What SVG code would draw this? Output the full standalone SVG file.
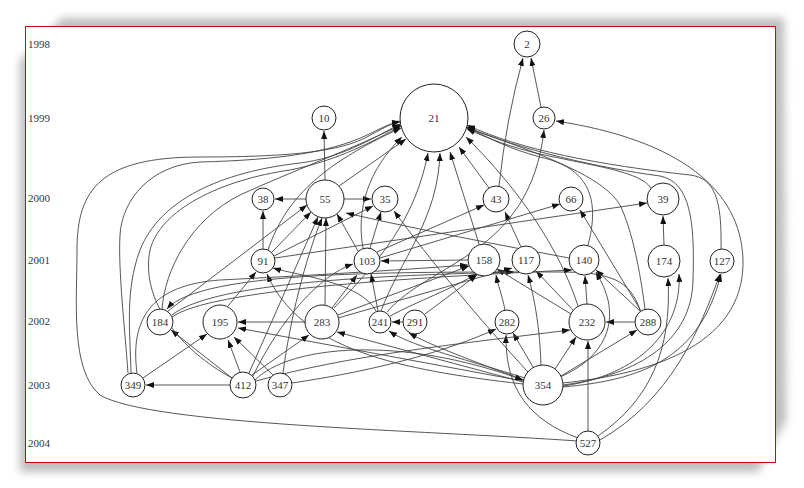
<svg xmlns="http://www.w3.org/2000/svg" width="804" height="488" viewBox="0 0 804 488">
<defs>
<filter id="sh" x="-10%" y="-10%" width="120%" height="120%"><feGaussianBlur stdDeviation="4"/></filter>
<marker id="a" markerUnits="userSpaceOnUse" markerWidth="8" markerHeight="6" refX="8" refY="3" orient="auto"><path d="M0,0 L8,3 L0,6 z" fill="#111"/></marker>
</defs>
<style>
.n circle{fill:#fff;stroke:#222;stroke-width:1}
.n text,.yr{font-family:"Liberation Serif","DejaVu Serif",serif;font-size:11px;fill:#333;text-anchor:middle}
.yr{text-anchor:start}
#edges path{fill:none;stroke:#444;stroke-width:0.9;marker-end:url(#a)}
</style>
<rect width="804" height="488" fill="#fff"/>
<path d="M20,60 L62,18 L784,18 L786,420 L758,472 L20,472 Z" fill="#bdbdbd" filter="url(#sh)"/>
<rect x="25.5" y="26.5" width="750" height="436" fill="#fff" stroke="#d40000" stroke-width="1"/>
<g id="years">
<text class="yr" x="28" y="48">1998</text>
<text class="yr" x="28" y="122">1999</text>
<text class="yr" x="28" y="202">2000</text>
<text class="yr" x="28" y="264">2001</text>
<text class="yr" x="28" y="325">2002</text>
<text class="yr" x="28" y="389">2003</text>
<text class="yr" x="28" y="447">2004</text>
</g>
<g id="edges">
<path d="M499,186 Q506,120 523,58"/>
<path d="M541,107 L531,58"/>
<path d="M325,180 L324,131"/>
<path d="M306,199 L275,199"/>
<path d="M344,199 L371,199"/>
<path d="M263,249 L263,211"/>
<path d="M272,252 L311,212"/>
<path d="M274,256 L373,206"/>
<path d="M339,186 L406,139"/>
<path d="M489,188 L459,147"/>
<path d="M479,244 L450,152"/>
<path d="M358,251 L337,214"/>
<path d="M370,248 L381,212"/>
<path d="M377,252 L484,205"/>
<path d="M380,258 L560,204"/>
<path d="M275,258 L647,203"/>
<path d="M468,260 L381,261"/>
<path d="M521,247 L505,212"/>
<path d="M641,311 L580,210"/>
<path d="M387,312 C430,262 530,255 544,130"/>
<path d="M588,245 C600,200 590,168 540,157 C510,149 488,138 467,127"/>
<path d="M651,188 C640,172 600,167 540,154 C510,147 490,139 467,129"/>
<path d="M664,245 L663,216"/>
<path d="M721,249 C722,200 715,178 690,175 C600,165 520,150 467,125"/>
<path d="M563,383 C640,375 745,350 743,260 C741,190 680,140 556,121"/>
<path d="M587,304 L585,276"/>
<path d="M635,322 L606,322"/>
<path d="M640,311 L596,270"/>
<path d="M573,310 L536,271"/>
<path d="M571,314 L497,269"/>
<path d="M555,369 L576,337"/>
<path d="M561,376 L637,330"/>
<path d="M533,367 L513,333"/>
<path d="M541,365 C540,330 535,300 528,275"/>
<path d="M588,431 L588,341"/>
<path d="M578,438 C530,420 505,390 506,335"/>
<path d="M598,436 C650,400 672,350 668,278"/>
<path d="M600,440 C670,400 700,330 720,274"/>
<path d="M563,387 C640,380 700,360 721,274"/>
<path d="M563,386 C640,375 682,330 679,274"/>
<path d="M230,385 L146,385"/>
<path d="M232,378 L171,330"/>
<path d="M143,378 L207,334"/>
<path d="M240,372 L228,340"/>
<path d="M273,375 L234,337"/>
<path d="M523,381 L238,328"/>
<path d="M305,322 L238,322"/>
<path d="M252,375 L309,335"/>
<path d="M228,306 L256,272"/>
<path d="M523,384 C400,370 300,350 267,274"/>
<path d="M253,376 C280,320 320,275 353,264"/>
<path d="M249,373 L318,217"/>
<path d="M283,373 C290,320 305,260 322,218"/>
<path d="M325,305 L326,218"/>
<path d="M332,308 L357,275"/>
<path d="M338,315 L469,266"/>
<path d="M338,318 L512,268"/>
<path d="M403,322 L392,322"/>
<path d="M525,378 C450,355 410,345 389,331"/>
<path d="M524,380 C470,360 430,345 409,333"/>
<path d="M640,310 C630,280 610,272 560,272 C400,272 200,270 167,309"/>
<path d="M172,315 C210,285 350,276 514,272"/>
<path d="M172,317 C210,290 400,278 572,270"/>
<path d="M334,308 C380,260 415,220 428,153"/>
<path d="M381,311 C400,260 438,220 440,153"/>
<path d="M363,248 C356,210 368,170 402,137"/>
<path d="M268,250 C285,200 320,165 401,128"/>
<path d="M578,441 C420,430 150,425 100,395 C70,370 77,300 77,250 C77,190 100,157 200,157 C300,157 340,150 365,138 C380,130 390,124 400,121"/>
<path d="M128,373 C125,330 118,270 120,235 C122,200 150,165 200,162 C280,160 330,152 365,136 C382,128 390,123 400,122"/>
<path d="M131,373 C130,330 125,290 140,250 C160,200 220,172 300,163 C340,158 370,140 400,124"/>
<path d="M232,378 C180,350 140,300 150,250 C160,210 220,180 290,170 C340,160 375,140 401,126"/>
<path d="M162,309 C165,270 190,220 240,195 C290,172 350,150 401,125"/>
<path d="M645,309 C640,270 632,230 620,205 C605,180 560,160 467,128"/>
<path d="M563,385 C640,375 692,340 693,280 C695,220 690,182 660,176 C600,168 520,150 467,127"/>
<path d="M578,306 C560,250 520,190 466,137"/>
<path d="M560,377 C600,360 615,330 608,300 C604,285 600,280 596,272"/>
<path d="M390,316 C420,300 450,290 476,274"/>
<path d="M425,314 L477,275"/>
<path d="M505,310 C502,295 498,285 496,275"/>
<path d="M292,383 C380,370 450,350 496,329"/>
<path d="M256,381 C350,355 450,345 570,330"/>
<path d="M523,382 L337,332"/>
<path d="M255,380 C290,345 400,335 523,380"/>
<path d="M137,373 C130,320 150,285 220,280 C300,276 400,270 468,265"/>
<path d="M168,311 L307,205"/>
<path d="M378,311 L371,274"/>
<path d="M376,311 C360,282 300,276 273,268"/>
<path d="M528,372 C480,320 430,260 394,211"/>
<path d="M569,258 C500,245 420,230 346,213"/>
</g>
<g id="n2" class="n"><circle cx="527" cy="44" r="13"/><text x="527" y="48">2</text></g>
<g id="n21" class="n"><circle cx="434" cy="118" r="34"/><text x="434" y="122">21</text></g>
<g id="n10" class="n"><circle cx="324" cy="118" r="12"/><text x="324" y="122">10</text></g>
<g id="n26" class="n"><circle cx="544" cy="118" r="11"/><text x="544" y="122">26</text></g>
<g id="n38" class="n"><circle cx="263" cy="199" r="11"/><text x="263" y="203">38</text></g>
<g id="n55" class="n"><circle cx="325" cy="199" r="19"/><text x="325" y="203">55</text></g>
<g id="n35" class="n"><circle cx="385" cy="199" r="13"/><text x="385" y="203">35</text></g>
<g id="n43" class="n"><circle cx="496" cy="199" r="13"/><text x="496" y="203">43</text></g>
<g id="n66" class="n"><circle cx="571" cy="199" r="12"/><text x="571" y="203">66</text></g>
<g id="n39" class="n"><circle cx="663" cy="199" r="16"/><text x="663" y="203">39</text></g>
<g id="n91" class="n"><circle cx="263" cy="261" r="12"/><text x="263" y="265">91</text></g>
<g id="n103" class="n"><circle cx="367" cy="261" r="13"/><text x="367" y="265">103</text></g>
<g id="n158" class="n"><circle cx="484" cy="260" r="16"/><text x="484" y="264">158</text></g>
<g id="n117" class="n"><circle cx="526" cy="260" r="14"/><text x="526" y="264">117</text></g>
<g id="n140" class="n"><circle cx="584" cy="260" r="15"/><text x="584" y="264">140</text></g>
<g id="n174" class="n"><circle cx="664" cy="261" r="16"/><text x="664" y="265">174</text></g>
<g id="n127" class="n"><circle cx="722" cy="261" r="12"/><text x="722" y="265">127</text></g>
<g id="n184" class="n"><circle cx="160" cy="322" r="13"/><text x="160" y="326">184</text></g>
<g id="n195" class="n"><circle cx="220" cy="322" r="17"/><text x="220" y="326">195</text></g>
<g id="n283" class="n"><circle cx="322" cy="322" r="17"/><text x="322" y="326">283</text></g>
<g id="n241" class="n"><circle cx="380" cy="322" r="11"/><text x="380" y="326">241</text></g>
<g id="n291" class="n"><circle cx="415" cy="322" r="12"/><text x="415" y="326">291</text></g>
<g id="n282" class="n"><circle cx="507" cy="322" r="12"/><text x="507" y="326">282</text></g>
<g id="n232" class="n"><circle cx="587" cy="322" r="18"/><text x="587" y="326">232</text></g>
<g id="n288" class="n"><circle cx="648" cy="322" r="13"/><text x="648" y="326">288</text></g>
<g id="n349" class="n"><circle cx="133" cy="385" r="12"/><text x="133" y="389">349</text></g>
<g id="n412" class="n"><circle cx="243" cy="385" r="13"/><text x="243" y="389">412</text></g>
<g id="n347" class="n"><circle cx="280" cy="385" r="12"/><text x="280" y="389">347</text></g>
<g id="n354" class="n"><circle cx="543" cy="385" r="20"/><text x="543" y="389">354</text></g>
<g id="n527" class="n"><circle cx="588" cy="443" r="12"/><text x="588" y="447">527</text></g>
</svg>
